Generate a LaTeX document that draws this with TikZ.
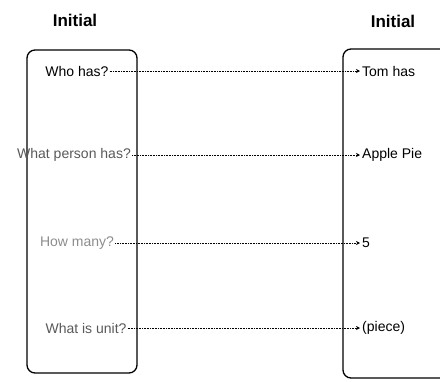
\documentclass[tikz,border=0pt]{standalone}
\usepackage{fontspec}
\setmainfont{Liberation Sans}
\usetikzlibrary{arrows.meta}

\tikzset{
  slot/.style={draw, line width=1.3pt, rounded corners=8pt},
  head/.style={font=\bfseries\fontsize{17}{20}\selectfont},
  ask/.style={font=\fontsize{14}{16}\selectfont, inner sep=1pt},
  val/.style={font=\fontsize{14}{16}\selectfont, inner sep=2pt, anchor=west},
  link/.style={densely dotted, line width=0.6pt, -{Stealth[length=4pt,width=4pt]}}
}

\begin{document}
\begin{tikzpicture}[x=1pt,y=-1pt]
  \clip (0,0) rectangle (440,381);

  % two columns
  \draw[slot] (27,50) rectangle (137,373);
  \draw[slot] (343,49) rectangle (470,378);

  \node[head] (lhead) at (75,20) {Initial};
  \node[head] (rhead) at (393,21) {Initial};

  % questions on the left
  \node[ask] (q1) at (77,71) {Who has?};
  \node[ask, text=black!65] (q2) at (74,155) {What person has?};
  \node[ask, text=black!45] (q3) at (77,243) {How many?};
  \node[ask, text=black!65] (q4) at (86,328) {What is unit?};

  % answers on the right
  \node[val] (a1) at (360,71) {Tom has};
  \node[val] (a2) at (360,155) {Apple Pie};
  \node[val] (a3) at (360,243) {5};
  \node[val] (a4) at (360,328) {(piece)};

  \draw[link] (q1) -- (a1);
  \draw[link] (q2) -- (a2);
  \draw[link] (q3) -- (a3);
  \draw[link] (q4) -- (a4);
\end{tikzpicture}
\end{document}
